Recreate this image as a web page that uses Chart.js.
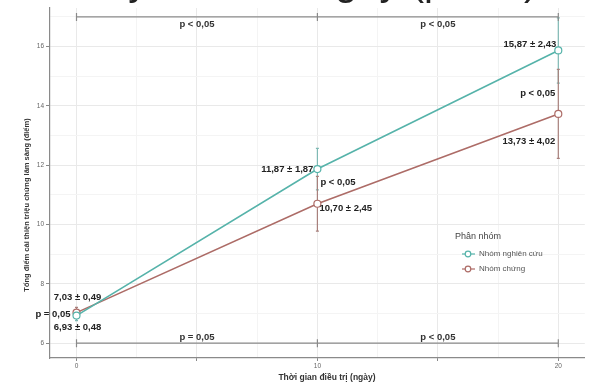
<!DOCTYPE html>
<html>
<head>
<meta charset="utf-8">
<script src="https://cdn.jsdelivr.net/npm/chart.js@4.4.1/dist/chart.umd.min.js"></script>
<style>
  html, body { margin: 0; padding: 0; background: #ffffff; }
  #c { display: block; }
</style>
</head>
<body>
<canvas id="c" width="590" height="383"></canvas>
<script>
// Treatment days and group summaries (mean ± SD)
const days = [0, 10, 20];
const studyMean = [6.93, 11.87, 15.87];
const studySd = [0.48, 1.87, 2.43];
const controlMean = [7.03, 10.70, 13.73];
const controlSd = [0.49, 2.45, 4.02];
// half-length of the error bars drawn at each day
const studyBar = [0.17, 0.70, 1.10];
const controlBar = [0.18, 0.92, 1.50];

// significance between groups at each day
const pGroups = ['p = 0,05', 'p < 0,05', 'p < 0,05'];
// significance between successive days (study group on top, control group below)
const pStudyDays = ['p < 0,05', 'p < 0,05'];
const pControlDays = ['p = 0,05', 'p < 0,05'];

const yTicks = [6, 8, 10, 12, 14, 16];
const xTicks = [0, 10, 20];
const groupNames = ['Nhóm nghiên cứu', 'Nhóm chứng'];

const TEAL = '#56b3aa';
const RED = '#ad6c67';
const LABEL_FONT = 'bold 9.5px "Liberation Sans", Arial, sans-serif';

function fmt(v) { return v.toFixed(2).replace('.', ','); }

const annotations = {
  id: 'annotations',
  beforeDatasetsDraw(chart) {
    const ctx = chart.ctx;
    const xs = chart.scales.x, ys = chart.scales.y;
    // error bars
    const groups = [[studyMean, studyBar, '#7fb9b4'], [controlMean, controlBar, '#a8807c']];
    ctx.save();
    ctx.lineWidth = 1.2;
    groups.forEach(([m, e, col]) => {
      ctx.strokeStyle = col;
      days.forEach((d, i) => {
        const x = xs.getPixelForValue(d);
        const y1 = ys.getPixelForValue(m[i] + e[i]);
        const y2 = ys.getPixelForValue(m[i] - e[i]);
        ctx.beginPath();
        ctx.moveTo(x, y1); ctx.lineTo(x, y2);
        ctx.moveTo(x - 1.5, y1); ctx.lineTo(x + 1.5, y1);
        ctx.moveTo(x - 1.5, y2); ctx.lineTo(x + 1.5, y2);
        ctx.stroke();
      });
    });
    ctx.restore();
  },
  afterDraw(chart) {
    const ctx = chart.ctx;
    const xs = chart.scales.x, ys = chart.scales.y;
    const px = v => xs.getPixelForValue(v);
    const py = v => ys.getPixelForValue(v);
    ctx.save();

    // heading (runs off the top edge)
    ctx.fillStyle = '#222';
    ctx.font = '40px "Liberation Sans", Arial, sans-serif';
    ctx.textAlign = 'center';
    ctx.textBaseline = 'alphabetic';
    ctx.fillText('thay đổi theo ngày (p, SD)', 305, -5);

    // brackets between days
    const bracket = (yv, labels, above) => {
      const y = py(yv);
      ctx.strokeStyle = '#8a8a8a';
      ctx.lineWidth = 1.2;
      ctx.beginPath();
      ctx.moveTo(px(days[0]), y); ctx.lineTo(px(days[days.length - 1]), y);
      days.forEach(d => { ctx.moveTo(px(d), y - 4); ctx.lineTo(px(d), y + 4); });
      ctx.stroke();
      ctx.fillStyle = '#333';
      ctx.font = LABEL_FONT;
      ctx.textAlign = 'center';
      ctx.textBaseline = 'middle';
      labels.forEach((t, i) => {
        const xm = (px(days[i]) + px(days[i + 1])) / 2;
        ctx.fillText(t, xm, above ? y - 6 : y + 7);
      });
    };
    bracket(17.0, pStudyDays, false);
    bracket(6.0, pControlDays, true);

    // value labels
    ctx.font = LABEL_FONT;
    ctx.fillStyle = '#222';
    ctx.textBaseline = 'middle';
    const put = (t, x, y, align) => { ctx.textAlign = align; ctx.fillText(t, x, y); };
    const sLab = i => fmt(studyMean[i]) + ' ± ' + fmt(studySd[i]);
    const cLab = i => fmt(controlMean[i]) + ' ± ' + fmt(controlSd[i]);
    // day 0
    put(cLab(0), px(days[0]) + 1, py(controlMean[0]) - 15, 'center');
    put(sLab(0), px(days[0]) + 1, py(studyMean[0]) + 12, 'center');
    put(pGroups[0], px(days[0]) - 6, (py(controlMean[0]) + py(studyMean[0])) / 2, 'right');
    // day 10
    put(sLab(1), px(days[1]) - 4, py(studyMean[1]), 'right');
    put(pGroups[1], px(days[1]) + 3, py(studyMean[1]) + 13, 'left');
    put(cLab(1), px(days[1]) + 2, py(controlMean[1]) + 5, 'left');
    // day 20
    put(sLab(2), px(days[2]) - 2, py(studyMean[2]) - 6, 'right');
    put(pGroups[2], px(days[2]) - 3, py(studyMean[2]) + 43, 'right');
    put(cLab(2), px(days[2]) - 3, py(controlMean[2]) + 27, 'right');

    // axis titles
    ctx.fillStyle = '#333';
    ctx.font = 'bold 8.5px "Liberation Sans", Arial, sans-serif';
    ctx.textAlign = 'center';
    ctx.textBaseline = 'middle';
    ctx.fillText('Thời gian điều trị (ngày)', 327, 378);
    ctx.save();
    ctx.translate(27, 205);
    ctx.rotate(-Math.PI / 2);
    ctx.font = 'bold 7.5px "Liberation Sans", Arial, sans-serif';
    ctx.fillText('Tổng điểm cải thiện triệu chứng lâm sàng (điểm)', 0, 0);
    ctx.restore();

    // legend
    ctx.fillStyle = '#444';
    ctx.font = '9px "Liberation Sans", Arial, sans-serif';
    ctx.textAlign = 'left';
    ctx.fillText('Phân nhóm', 455, 237);
    const cols = [TEAL, RED];
    groupNames.forEach((n, i) => {
      const y = 254 + i * 15;
      ctx.strokeStyle = cols[i];
      ctx.lineWidth = 1.2;
      ctx.beginPath(); ctx.moveTo(462, y); ctx.lineTo(475, y); ctx.stroke();
      ctx.fillStyle = '#fff';
      ctx.beginPath(); ctx.arc(468, y, 2.8, 0, Math.PI * 2); ctx.fill(); ctx.stroke();
      ctx.fillStyle = '#555';
      ctx.font = '8px "Liberation Sans", Arial, sans-serif';
      ctx.fillText(n, 479, y);
    });
    ctx.restore();
  }
};

const gridColor = ctx => {
  const v = ctx.tick ? ctx.tick.value : 0;
  return Number.isInteger(v / 2) ? '#e9e9e9' : '#f4f4f4';
};

new Chart(document.getElementById('c'), {
  type: 'line',
  data: {
    datasets: [
      {
        label: groupNames[0],
        data: days.map((d, i) => ({ x: d, y: studyMean[i] })),
        borderColor: TEAL, backgroundColor: '#ffffff',
        borderWidth: 1.6, pointRadius: 3.5, pointBorderWidth: 1.2,
        pointBorderColor: TEAL, pointBackgroundColor: '#ffffff', tension: 0
      },
      {
        label: groupNames[1],
        data: days.map((d, i) => ({ x: d, y: controlMean[i] })),
        borderColor: RED, backgroundColor: '#ffffff',
        borderWidth: 1.6, pointRadius: 3.5, pointBorderWidth: 1.2,
        pointBorderColor: RED, pointBackgroundColor: '#ffffff', tension: 0
      }
    ]
  },
  options: {
    responsive: false,
    animation: false,
    devicePixelRatio: 1,
    layout: { padding: { top: 8, right: 0, left: 0, bottom: 0 } },
    plugins: { legend: { display: false }, tooltip: { enabled: false } },
    scales: {
      x: {
        type: 'linear', min: -1.1, max: 21.1,
        afterFit: s => { s.height = 25; },
        afterBuildTicks: s => {
          s.ticks = [0, 2.5, 5, 7.5, 10, 12.5, 15, 17.5, 20].map(v => ({ value: v }));
        },
        ticks: {
          autoSkip: false, maxRotation: 0, padding: 1,
          color: '#666', font: { size: 6.5, family: '"Liberation Sans", Arial' },
          callback: v => xTicks.includes(v) ? String(v) : ''
        },
        grid: {
          color: ctx => (ctx.tick && Number.isInteger(ctx.tick.value / 5)) ? '#e9e9e9' : '#f4f4f4',
          tickLength: 3,
          tickColor: ctx => (ctx.tick && Number.isInteger(ctx.tick.value / 5)) ? '#888' : 'rgba(0,0,0,0)'
        },
        border: { color: '#8a8a8a', width: 1.2 }
      },
      y: {
        min: 5.5, max: 17.3,
        afterFit: s => { s.width = 50; },
        afterBuildTicks: s => {
          s.ticks = [6, 7, 8, 9, 10, 11, 12, 13, 14, 15, 16, 17].map(v => ({ value: v }));
        },
        ticks: {
          autoSkip: false, padding: 2,
          color: '#666', font: { size: 6.5, family: '"Liberation Sans", Arial' },
          callback: v => yTicks.includes(v) ? String(v) : ''
        },
        grid: {
          color: gridColor,
          tickLength: 4,
          tickColor: ctx => (ctx.tick && yTicks.includes(ctx.tick.value)) ? '#888' : 'rgba(0,0,0,0)'
        },
        border: { color: '#8a8a8a', width: 1.2 }
      }
    }
  },
  plugins: [annotations]
});
</script>
</body>
</html>
